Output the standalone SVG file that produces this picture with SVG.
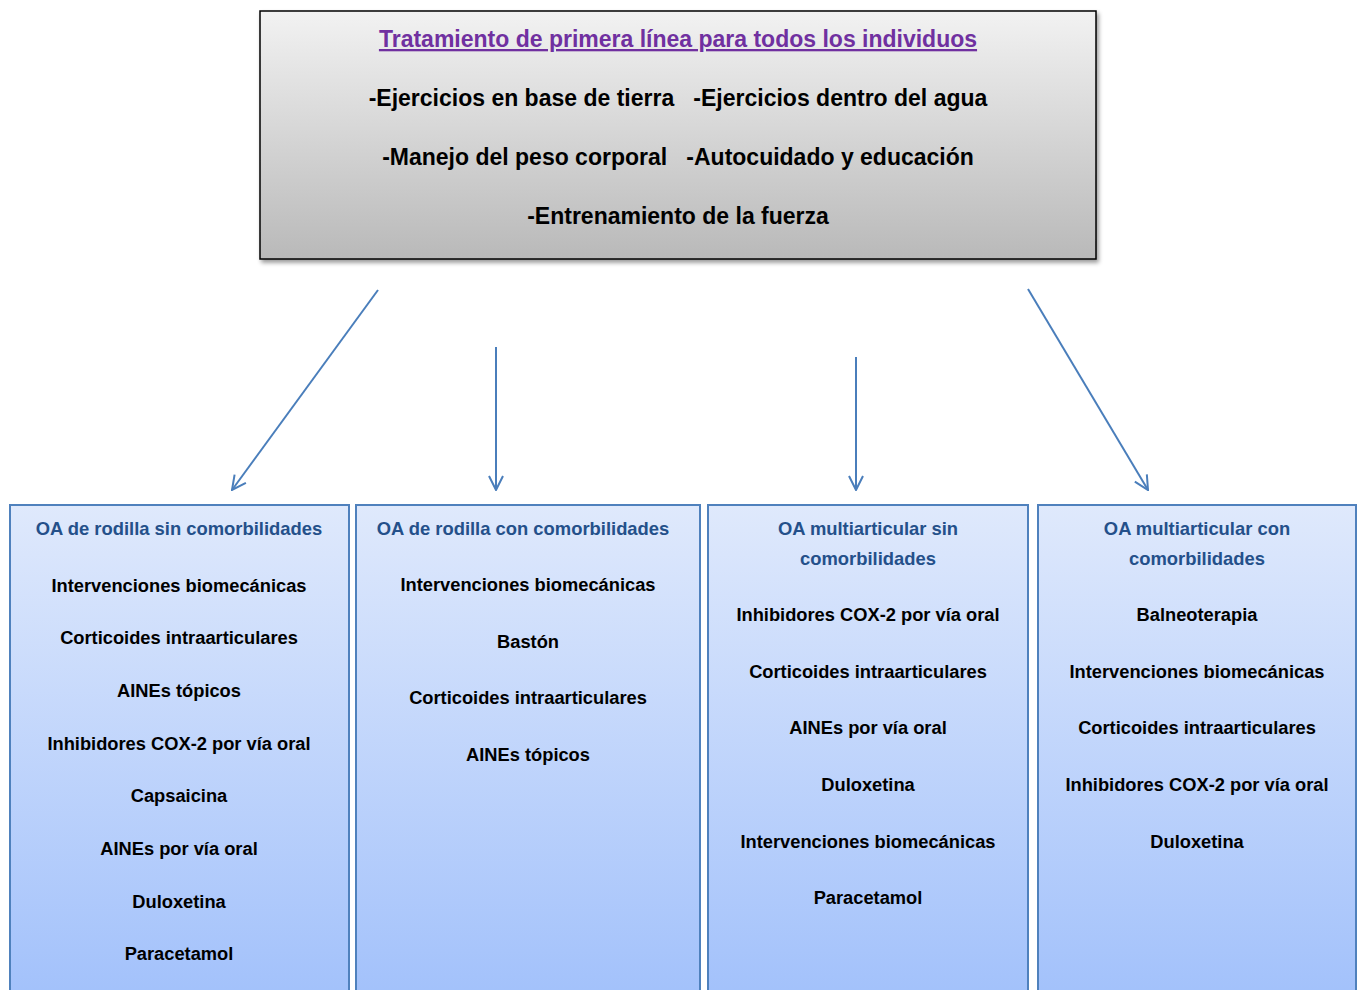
<svg xmlns="http://www.w3.org/2000/svg" width="1359" height="990" viewBox="0 0 1359 990">
<style>
.t{font-family:"Liberation Sans",Arial,sans-serif;font-weight:bold;text-anchor:middle;white-space:pre}
.top{font-size:23px;fill:#000}
.title{font-size:23px;fill:#7030a0;text-decoration:underline}
.hd{font-size:18.4px;fill:#24508a}
.it{font-size:18.3px;fill:#000}
.box{fill:url(#bg);stroke:#4f81bd;stroke-width:2}
.con{stroke:#4a7ebb;stroke-width:2;fill:none;marker-end:url(#ah)}
</style>
<defs>
<linearGradient id="gg" x1="0" y1="0" x2="0" y2="1">
<stop offset="0" stop-color="#f2f2f2"/>
<stop offset="1" stop-color="#b9b9b9"/>
</linearGradient>
<linearGradient id="bg" x1="0" y1="0" x2="0" y2="1">
<stop offset="0" stop-color="#dfe9fc"/>
<stop offset="1" stop-color="#a2c1fb"/>
</linearGradient>
<filter id="sh" x="-5%" y="-5%" width="110%" height="115%">
<feDropShadow dx="2" dy="3" stdDeviation="2" flood-color="#000" flood-opacity="0.4"/>
</filter>
<marker id="ah" viewBox="0 0 16 16" refX="15" refY="8" markerWidth="16" markerHeight="16" markerUnits="userSpaceOnUse" orient="auto">
<path d="M1,1 L15,8 L1,15" fill="none" stroke="#4a7ebb" stroke-width="2"/>
</marker>
</defs>
<g id="top-node">
<rect x="260" y="11" width="836" height="248" fill="url(#gg)" stroke="#000" stroke-width="1.5" filter="url(#sh)"/>
<text class="t title" x="678" y="47">Tratamiento de primera línea para todos los individuos</text>
<text class="t top" x="678" y="106" xml:space="preserve">-Ejercicios en base de tierra   -Ejercicios dentro del agua</text>
<text class="t top" x="678" y="165" xml:space="preserve">-Manejo del peso corporal   -Autocuidado y educación</text>
<text class="t top" x="678" y="224">-Entrenamiento de la fuerza</text>
</g>
<g id="connectors">
<line class="con" x1="378" y1="290" x2="232" y2="490"/>
<line class="con" x1="496" y1="347" x2="496" y2="490"/>
<line class="con" x1="856" y1="357" x2="856" y2="490"/>
<line class="con" x1="1028" y1="289" x2="1148" y2="490"/>
</g>
<g id="node1">
<rect class="box" x="10" y="505" width="339" height="495"/>
<text class="t hd" x="179" y="535">OA de rodilla sin comorbilidades</text>
<text class="t it" x="179" y="592">Intervenciones biomecánicas</text>
<text class="t it" x="179" y="644">Corticoides intraarticulares</text>
<text class="t it" x="179" y="697">AINEs tópicos</text>
<text class="t it" x="179" y="750">Inhibidores COX-2 por vía oral</text>
<text class="t it" x="179" y="802">Capsaicina</text>
<text class="t it" x="179" y="855">AINEs por vía oral</text>
<text class="t it" x="179" y="908">Duloxetina</text>
<text class="t it" x="179" y="960">Paracetamol</text>
</g>
<g id="node2">
<rect class="box" x="356" y="505" width="344" height="495"/>
<text class="t hd" x="523" y="535">OA de rodilla con comorbilidades</text>
<text class="t it" x="528" y="591">Intervenciones biomecánicas</text>
<text class="t it" x="528" y="648">Bastón</text>
<text class="t it" x="528" y="704">Corticoides intraarticulares</text>
<text class="t it" x="528" y="761">AINEs tópicos</text>
</g>
<g id="node3">
<rect class="box" x="708" y="505" width="320" height="495"/>
<text class="t hd" x="868" y="535">OA multiarticular sin</text>
<text class="t hd" x="868" y="565">comorbilidades</text>
<text class="t it" x="868" y="621">Inhibidores COX-2 por vía oral</text>
<text class="t it" x="868" y="678">Corticoides intraarticulares</text>
<text class="t it" x="868" y="734">AINEs por vía oral</text>
<text class="t it" x="868" y="791">Duloxetina</text>
<text class="t it" x="868" y="848">Intervenciones biomecánicas</text>
<text class="t it" x="868" y="904">Paracetamol</text>
</g>
<g id="node4">
<rect class="box" x="1038" y="505" width="318" height="495"/>
<text class="t hd" x="1197" y="535">OA multiarticular con</text>
<text class="t hd" x="1197" y="565">comorbilidades</text>
<text class="t it" x="1197" y="621">Balneoterapia</text>
<text class="t it" x="1197" y="678">Intervenciones biomecánicas</text>
<text class="t it" x="1197" y="734">Corticoides intraarticulares</text>
<text class="t it" x="1197" y="791">Inhibidores COX-2 por vía oral</text>
<text class="t it" x="1197" y="848">Duloxetina</text>
</g>
</svg>
